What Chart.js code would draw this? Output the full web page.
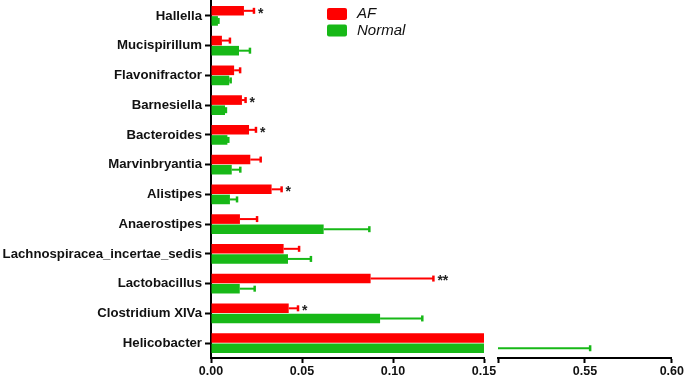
<!DOCTYPE html>
<html>
<head>
<meta charset="utf-8">
<script src="https://cdn.jsdelivr.net/npm/chart.js@4"></script>
<style>
    html, body { margin: 0; padding: 0; background: #fff; }
    #wrap { position: relative; width: 685px; height: 377px; overflow: hidden; }
    #left { position: absolute; left: 0; top: 0; width: 500px; height: 377px; }
    #right { position: absolute; left: 490px; top: 0; width: 195px; height: 377px; }
</style>
</head>
<body>
<div id="wrap">
    <div id="left"><canvas id="chart-left"></canvas></div>
    <div id="right"><canvas id="chart-right"></canvas></div>
</div>
<script>
// 数据
const categories = ['Hallella', 'Mucispirillum', 'Flavonifractor', 'Barnesiella', 'Bacteroides',
    'Marvinbryantia', 'Alistipes', 'Anaerostipes', 'Lachnospiracea_incertae_sedis',
    'Lactobacillus', 'Clostridium XIVa', 'Helicobacter'];
const seriesNames = ['AF', 'Normal'];
const afValues = [0.0181, 0.0060, 0.0127, 0.0170, 0.0209, 0.0216, 0.0333, 0.0159, 0.0399, 0.0877, 0.0427, 0.19];
const afErrors = [0.0055, 0.0044, 0.0033, 0.0020, 0.0038, 0.0057, 0.0055, 0.0094, 0.0085, 0.0345, 0.0051, 0.04];
const normalValues = [0.0038, 0.0154, 0.0100, 0.0077, 0.0090, 0.0114, 0.0104, 0.0619, 0.0423, 0.0158, 0.0929, 0.32];
const normalErrors = [0.0003, 0.0060, 0.0008, 0.0005, 0.0005, 0.0047, 0.0039, 0.0251, 0.0126, 0.0082, 0.0232, 0.233];
const afStars = ['*', '', '', '*', '*', '', '*', '', '', '**', '*', ''];
const leftTicks = [0, 0.05, 0.10, 0.15];
const leftTickLabels = ['0.00', '0.05', '0.10', '0.15'];
const rightTicks = [0.50, 0.55, 0.60];
const rightTickLabels = ['', '0.55', '0.60'];

const RED = '#FF0000';
const GREEN = '#17B817';
const FONT = '"Liberation Sans", Arial, Helvetica, sans-serif';

Chart.defaults.animation = false;
Chart.defaults.devicePixelRatio = 1;

function makeDatasets() {
    return [
        { label: seriesNames[0], data: afValues, errors: afErrors, backgroundColor: RED,
          barPercentage: 0.95, categoryPercentage: 0.68, borderWidth: 0, clip: 0 },
        { label: seriesNames[1], data: normalValues, errors: normalErrors, backgroundColor: GREEN,
          barPercentage: 0.95, categoryPercentage: 0.68, borderWidth: 0, clip: 0 }
    ];
}

// 误差线
const errorBarPlugin = {
    id: 'errorBars',
    afterDatasetsDraw(chart) {
        const ctx = chart.ctx;
        const area = chart.chartArea;
        const xs = chart.scales.x;
        ctx.save();
        ctx.beginPath();
        ctx.rect(area.left, area.top - 5, area.right - area.left + 2, area.bottom - area.top + 10);
        ctx.clip();
        chart.data.datasets.forEach(function(ds, di) {
            const meta = chart.getDatasetMeta(di);
            meta.data.forEach(function(bar, i) {
                const x1 = xs.getPixelForValue(ds.data[i]);
                const x2 = xs.getPixelForValue(ds.data[i] + ds.errors[i]);
                ctx.strokeStyle = ds.backgroundColor;
                ctx.lineWidth = 2;
                ctx.beginPath();
                ctx.moveTo(x1, bar.y);
                ctx.lineTo(x2, bar.y);
                ctx.stroke();
                ctx.lineWidth = 2.5;
                ctx.beginPath();
                ctx.moveTo(x2, bar.y - 3);
                ctx.lineTo(x2, bar.y + 3);
                ctx.stroke();
            });
        });
        ctx.restore();
    }
};

// 显著性星号 + 图例
const annotationPlugin = {
    id: 'annotations',
    afterDraw(chart) {
        const ctx = chart.ctx;
        const xs = chart.scales.x;
        const meta = chart.getDatasetMeta(0);
        ctx.save();
        ctx.fillStyle = '#222';
        ctx.font = 'bold 14px ' + FONT;
        ctx.textAlign = 'left';
        ctx.textBaseline = 'middle';
        afStars.forEach(function(s, i) {
            if (!s) return;
            const x = xs.getPixelForValue(afValues[i] + afErrors[i]) + 4;
            ctx.fillText(s, x, meta.data[i].y + 3);
        });

        const colors = [RED, GREEN];
        ctx.font = 'italic 15px ' + FONT;
        seriesNames.forEach(function(name, i) {
            const cy = 14 + i * 16.5;
            ctx.fillStyle = colors[i];
            ctx.beginPath();
            ctx.roundRect(327, cy - 6, 20, 12, 2);
            ctx.fill();
            ctx.fillStyle = '#111';
            ctx.fillText(name, 357, cy);
        });
        ctx.restore();
    }
};

function axisX(min, max, tickValues, tickLabels) {
    return {
        type: 'linear',
        min: min,
        max: max,
        afterBuildTicks: function(scale) {
            scale.ticks = tickValues.map(function(v) { return { value: v }; });
        },
        afterFit: function(scale) { scale.height = 19; },
        grid: { drawOnChartArea: false, drawTicks: true, tickLength: 5, tickWidth: 2, tickColor: '#000' },
        border: { display: true, color: '#000', width: 2 },
        ticks: {
            padding: 1,
            color: '#111',
            autoSkip: false,
            maxRotation: 0,
            font: { family: FONT, size: 12.5, weight: 'bold' },
            callback: function(value, index) { return tickLabels[index]; }
        }
    };
}

function createLeftChart() {
    new Chart(document.getElementById('chart-left'), {
        type: 'bar',
        data: { labels: categories, datasets: makeDatasets() },
        options: {
            indexAxis: 'y',
            responsive: true,
            maintainAspectRatio: false,
            layout: { padding: { top: 1, right: 16, left: 0, bottom: 0 } },
            plugins: { legend: { display: false }, tooltip: { enabled: false } },
            scales: {
                x: axisX(0, 0.15, leftTicks, leftTickLabels),
                y: {
                    afterFit: function(scale) {
                        scale.width = 211;
                        scale.paddingTop = 0;
                        scale.paddingBottom = 0;
                    },
                    grid: { drawOnChartArea: false, offset: false, tickLength: 6, tickWidth: 2, tickColor: '#000' },
                    border: { display: true, color: '#000', width: 2 },
                    ticks: {
                        padding: 3,
                        color: '#111',
                        autoSkip: false,
                        font: { family: FONT, size: 13.2, weight: 'bold' }
                    }
                }
            }
        },
        plugins: [errorBarPlugin, annotationPlugin]
    });
}

function createRightChart() {
    new Chart(document.getElementById('chart-right'), {
        type: 'bar',
        data: { labels: categories, datasets: makeDatasets() },
        options: {
            indexAxis: 'y',
            responsive: true,
            maintainAspectRatio: false,
            layout: { padding: { top: 1, right: 13, left: 8, bottom: 0 } },
            plugins: { legend: { display: false }, tooltip: { enabled: false } },
            scales: {
                x: axisX(0.50, 0.60, rightTicks, rightTickLabels),
                y: { display: false }
            }
        },
        plugins: [errorBarPlugin]
    });
}

createLeftChart();
createRightChart();
</script>
</body>
</html>
